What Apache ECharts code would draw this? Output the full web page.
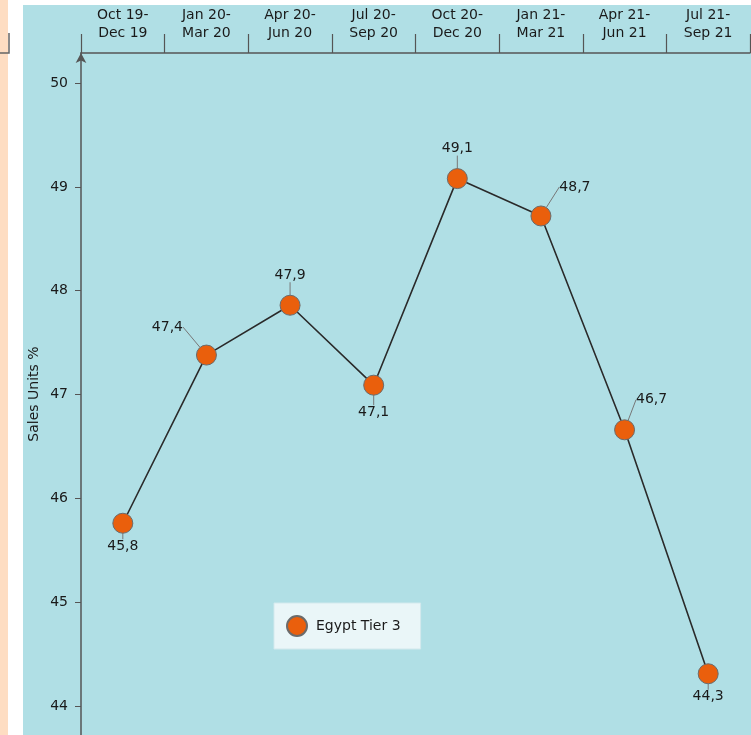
<!DOCTYPE html>
<html>
<head>
<meta charset="utf-8">
<script src="https://cdn.jsdelivr.net/npm/echarts@6/dist/echarts.min.js"></script>
<style>
html,body{margin:0;padding:0;background:#fff;}
#chart{width:751px;height:735px;}
</style>
</head>
<body>
<div id="chart"></div>
<script>
// ---- data ----
const categories = [
  'Oct 19-\nDec 19', 'Jan 20-\nMar 20', 'Apr 20-\nJun 20', 'Jul 20-\nSep 20',
  'Oct 20-\nDec 20', 'Jan 21-\nMar 21', 'Apr 21-\nJun 21', 'Jul 21-\nSep 21'
];
const seriesName = 'Egypt Tier 3';
const salesUnits = [45.76, 47.38, 47.86, 47.09, 49.08, 48.72, 46.66, 44.31];
const yTickValues = [44, 45, 46, 47, 48, 49, 50];
const yAxisName = 'Sales Units %';

// ---- label placement (style) ----
const labelOffsets = [[0, 23], [-39, -28], [0, -30], [0, 27], [0, -30], [34, -29], [27, -30], [0, 23]];

const FONT = '"DejaVu Sans", "Liberation Sans", Arial, sans-serif';
const TEXT = '#1a1a1a';
const chart = echarts.init(document.getElementById('chart'), null, {renderer: 'canvas'});
const fmt = v => v.toFixed(1).replace('.', ',');

chart.setOption({
  animation: false,
  backgroundColor: 'transparent',
  textStyle: {fontFamily: FONT},
  graphic: {
    elements: [
      {type: 'rect', z: -10, silent: true, shape: {x: 0, y: 0, width: 8, height: 735}, style: {fill: '#FEDDC2'}},
      {type: 'rect', z: -10, silent: true, shape: {x: 23, y: 5, width: 728, height: 730}, style: {fill: '#B0DFE5'}},
      {type: 'polyline', z: -5, silent: true, shape: {points: [[9, 33], [9, 53], [0, 53]]}, style: {stroke: '#666', lineWidth: 1.5, fill: null}}
    ]
  },
  grid: {left: 81, right: 1, top: 53, bottom: 0, containLabel: false},
  legend: {
    left: 274, top: 603,
    backgroundColor: '#EAF6F8',
    borderColor: '#D3E9ED', borderWidth: 1,
    padding: [12, 20, 12, 12],
    itemWidth: 20, itemHeight: 20,
    icon: 'circle',
    textStyle: {fontSize: 14, color: TEXT, fontFamily: FONT, padding: [0, 0, 0, 4]},
    data: [seriesName]
  },
  xAxis: {
    type: 'category',
    position: 'top',
    data: categories,
    boundaryGap: true,
    axisLine: {show: true, lineStyle: {color: '#555', width: 1.5}},
    axisTick: {show: true, length: 19, alignWithLabel: false, lineStyle: {color: '#555', width: 1.2}},
    axisLabel: {fontSize: 14, lineHeight: 18, color: TEXT, margin: 11, interval: 0},
    splitLine: {show: false}
  },
  yAxis: {
    type: 'value',
    min: 43.72, max: 50.29,
    name: yAxisName,
    nameLocation: 'middle',
    nameGap: 40,
    nameMoveOverlap: false,
    nameRotate: 90,
    nameTextStyle: {fontSize: 14, color: TEXT},
    axisLine: {show: true, symbol: ['none', 'arrow'], symbolSize: [8, 10], symbolOffset: [0, 0], lineStyle: {color: '#555', width: 1.5}},
    axisTick: {show: true, length: 6, customValues: yTickValues, lineStyle: {color: '#555'}},
    axisLabel: {fontSize: 14, color: TEXT, margin: 13, customValues: yTickValues, formatter: v => String(v)},
    splitLine: {show: false}
  },
  series: [{
    name: seriesName,
    type: 'line',
    data: salesUnits,
    symbol: 'circle',
    symbolSize: 20,
    lineStyle: {color: '#2a2a2a', width: 1.6},
    itemStyle: {color: '#EA5F0C', borderColor: '#6b6b6b', borderWidth: 1},
    label: {
      show: true,
      position: 'inside',
      fontSize: 14,
      color: TEXT,
      formatter: p => fmt(p.value)
    },
    labelLine: {show: true, lineStyle: {color: '#777', width: 1}},
    labelLayout: function (params) {
      const o = labelOffsets[params.dataIndex];
      return {dx: o[0], dy: o[1]};
    },
    emphasis: {disabled: true}
  }]
});
</script>
</body>
</html>
